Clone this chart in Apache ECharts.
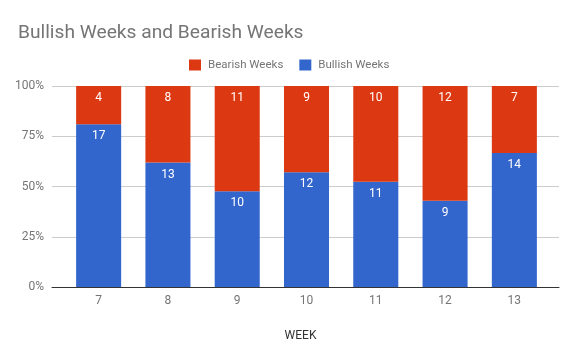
<!DOCTYPE html>
<html><head><meta charset="utf-8">
<script src="https://cdn.jsdelivr.net/npm/echarts@6/dist/echarts.min.js"></script>
<style>html,body{margin:0;padding:0;background:#fff}#c{width:578px;height:357px}</style>
</head><body><div id="c"></div>
<script>
const weeks = ['7','8','9','10','11','12','13'];
const bullish = [17,13,10,12,11,9,14];
const bearish = [4,8,11,9,10,12,7];
const yTicks = ['0%','25%','50%','75%','100%'];

const totals = weeks.map((w,i)=>bullish[i]+bearish[i]);
const pct = (arr)=>arr.map((v,i)=>({value: v/totals[i]*100, raw: v}));

const chart = echarts.init(document.getElementById('c'));
const font = 'Roboto';
const lbl = {show:true,position:'insideTop',distance:6,color:'#fff',fontFamily:font,fontSize:12,
        formatter:(p)=>p.data.raw};
chart.setOption({
  animation:false,
  title:{text:'Bullish Weeks and Bearish Weeks',left:13,top:19,textStyle:{fontFamily:font,fontSize:19.2,fontWeight:'normal',color:'#757575'}},
  legend:{top:54,left:184,itemWidth:12,itemHeight:11,itemGap:16,icon:'rect',
    textStyle:{fontFamily:font,fontSize:11.5,color:'#757575',padding:[0,0,0,2]},
    data:['Bearish Weeks','Bullish Weeks']},
  grid:[
    {left:52,right:19,top:86,bottom:70},
    {left:64,right:29,top:86,bottom:70}
  ],
  xAxis:[
    {gridIndex:0,type:'value',min:0,max:1,axisLabel:{show:false},axisTick:{show:false},
      splitLine:{show:false},axisLine:{show:true,lineStyle:{color:'#333'}},z:5},
    {gridIndex:1,type:'category',data:weeks,name:'WEEK',nameLocation:'middle',nameGap:43,
      nameTextStyle:{fontFamily:font,fontSize:12,color:'#333',verticalAlign:'top',padding:[0,12,0,0]},
      axisLine:{show:false},axisTick:{show:false},
      axisLabel:{fontFamily:font,fontSize:12,color:'#757575',margin:8}}
  ],
  yAxis:[
    {gridIndex:0,type:'value',min:0,max:100,interval:25,
      axisLabel:{fontFamily:font,fontSize:12,color:'#757575',margin:8,
        formatter:(v)=>yTicks[Math.round(v/25)]},
      splitLine:{lineStyle:{color:'#cccccc'}},axisLine:{show:false},axisTick:{show:false}},
    {gridIndex:1,type:'value',min:0,max:100,show:false}
  ],
  series:[
    {name:'Bullish Weeks',type:'bar',stack:'a',xAxisIndex:1,yAxisIndex:1,barWidth:'65%',data:pct(bullish),
      itemStyle:{color:'#3366cc'},label:lbl},
    {name:'Bearish Weeks',type:'bar',stack:'a',xAxisIndex:1,yAxisIndex:1,barWidth:'65%',data:pct(bearish),
      itemStyle:{color:'#dc3912'},label:lbl}
  ]
});
</script></body></html>
